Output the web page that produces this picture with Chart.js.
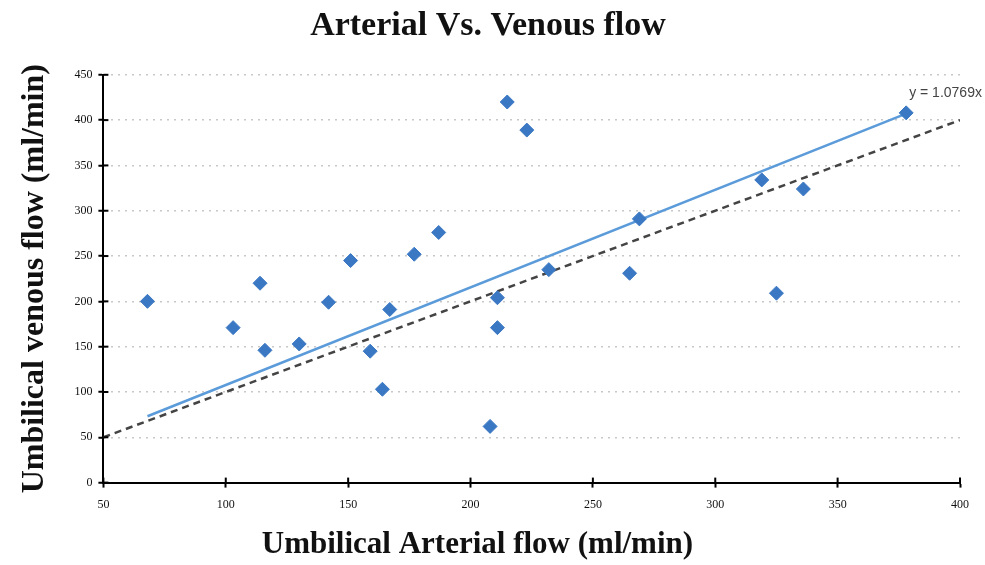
<!DOCTYPE html>
<html>
<head>
<meta charset="utf-8">
<script src="https://cdn.jsdelivr.net/npm/chart.js@4"></script>
<style>
  html, body { margin: 0; padding: 0; background: #fff; }
  #wrap { width: 985px; height: 565px; }
</style>
</head>
<body>
<div id="wrap"><canvas id="myChart"></canvas></div>
<script>
// data
const arterial = [68, 103, 114, 116, 130, 142, 151, 159, 164, 167, 177, 187, 208, 211, 211, 215, 223, 232, 265, 269, 319, 325, 336, 378];
const venous   = [200, 171, 220, 146, 153, 199, 245, 145, 103, 191, 252, 276, 62, 204, 171, 420, 389, 235, 231, 291, 334, 209, 324, 408];
const slope = 1.0769;           // trendline through origin
const identityX = [50, 400];    // y = x reference line
const xTicks = [50, 100, 150, 200, 250, 300, 350, 400];
const yTicks = [0, 50, 100, 150, 200, 250, 300, 350, 400, 450];

const points = arterial.map((x, i) => ({ x, y: venous[i] }));
const xMin = Math.min(...arterial), xMax = Math.max(...arterial);
const trend = [{ x: xMin, y: slope * xMin }, { x: xMax, y: slope * xMax }];
const identity = identityX.map(v => ({ x: v, y: v }));

// ticks that cross the axis line, plus the trendline label
const extras = {
  id: 'extras',
  afterDraw(chart) {
    const { ctx, scales: { x, y } } = chart;
    ctx.save();
    ctx.strokeStyle = '#000';
    ctx.lineWidth = 2;
    xTicks.forEach(v => {
      const px = x.getPixelForValue(v);
      ctx.beginPath(); ctx.moveTo(px, y.bottom); ctx.lineTo(px, y.bottom - 5); ctx.stroke();
    });
    yTicks.forEach(v => {
      const py = y.getPixelForValue(v);
      ctx.beginPath(); ctx.moveTo(x.left, py); ctx.lineTo(x.left + 5, py); ctx.stroke();
    });
    ctx.fillStyle = '#444';
    ctx.font = '14px "Liberation Sans"';
    ctx.textBaseline = 'middle';
    ctx.fillText('y = ' + slope + 'x', x.getPixelForValue(xMax) + 3, y.getPixelForValue(slope * xMax) - 21);
    ctx.restore();
  }
};

const data = {
  datasets: [{
    label: 'flow',
    data: points,
    backgroundColor: '#3b78c3',
    borderColor: '#3b78c3',
    pointStyle: 'rectRot',
    pointRadius: 7,
    order: 1
  },
  {
    label: 'trend',
    type: 'line',
    data: trend,
    borderColor: '#5b9bd9',
    borderWidth: 2.5,
    pointRadius: 0,
    order: 2
  },
  {
    label: 'identity',
    type: 'line',
    data: identity,
    borderColor: '#444',
    borderWidth: 2.5,
    borderDash: [7, 5],
    pointRadius: 0,
    order: 3
  }]
};

const config = {
  type: 'scatter',
  data,
  options: {
    responsive: true,
    maintainAspectRatio: false,
    animation: false,
    layout: { padding: { left: 16, right: 25, top: 4, bottom: 1 } },
    plugins: {
      legend: { display: false },
      tooltip: { enabled: false },
      title: {
        display: true,
        text: 'Arterial Vs. Venous flow',
        color: '#111',
        font: { family: '"Liberation Serif"', size: 34, weight: 'bold' },
        padding: { top: 2, bottom: 28 }
      }
    },
    scales: {
      x: {
        type: 'linear',
        min: 50, max: 400,
        afterBuildTicks: s => { s.ticks = xTicks.map(v => ({ value: v })); },
        grid: { color: 'transparent', tickColor: '#000', tickLength: 5, tickWidth: 2 },
        border: { color: '#000', width: 2 },
        ticks: { color: '#111', font: { family: '"Liberation Serif"', size: 12 }, padding: 10 },
        title: {
          display: true,
          // trailing spaces pull the centred title a little left, as in the original
          text: 'Umbilical Arterial flow (ml/min)\u2003\u2003\u2003\u2002',
          color: '#111',
          font: { family: '"Liberation Serif"', size: 31, weight: 'bold', lineHeight: 1 },
          padding: { top: 7 }
        }
      },
      y: {
        min: 0, max: 450,
        afterBuildTicks: s => { s.ticks = yTicks.map(v => ({ value: v })); },
        grid: { color: '#c8c8c8', lineWidth: 1.5, tickColor: '#000', tickLength: 5, tickWidth: 2 },
        border: { color: '#000', width: 2, dash: [2, 5] },
        ticks: { color: '#111', font: { family: '"Liberation Serif"', size: 12 }, padding: 6 },
        title: {
          display: true,
          text: 'Umbilical venous flow (ml/min)',
          color: '#111',
          font: { family: '"Liberation Serif"', size: 32, weight: 'bold' },
          padding: { top: 0, bottom: 14 }
        }
      }
    }
  },
  plugins: [extras]
};

const myChart = new Chart(document.getElementById('myChart'), config);
</script>
</body>
</html>
